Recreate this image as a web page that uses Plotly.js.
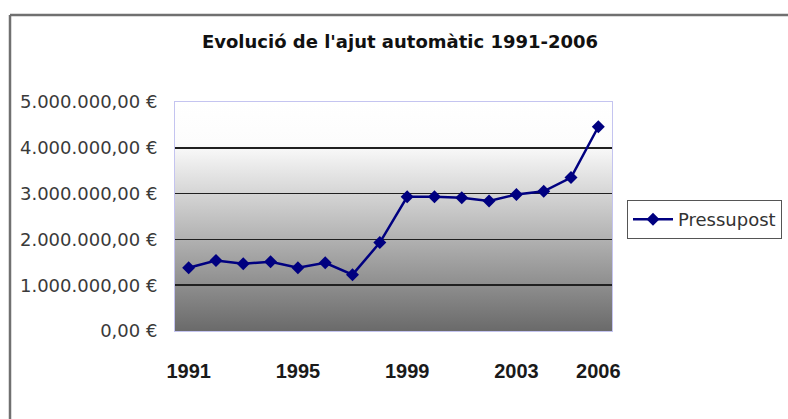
<!DOCTYPE html>
<html>
<head>
<meta charset="utf-8">
<script src="https://cdn.plot.ly/plotly-3.0.1.min.js"></script>
<style>html,body{margin:0;padding:0;background:#fff;}#chart{width:788px;height:419px;}</style>
</head>
<body>
<div id="chart"></div>
<script>
const years = [1991,1992,1993,1994,1995,1996,1997,1998,1999,2000,2001,2002,2003,2004,2005,2006];
const pressupost = [1380000,1540000,1470000,1510000,1380000,1490000,1230000,1930000,2930000,2930000,2910000,2840000,2980000,3050000,3350000,4460000];
const xTickYears = [1991,1995,1999,2003,2006];
const seriesName = 'Pressupost';
const chartTitle = "Evolució de l'ajut automàtic 1991-2006";

const W = 788, H = 419;
const mL = 175, mR = 176, mT = 102, mB = 88;
const pw = W - mL - mR, ph = H - mT - mB;
const px = v => (v - mL) / pw;
const py = v => (H - mB - v) / ph;

const grad = 'data:image/svg+xml;utf8,' + encodeURIComponent(
 '<svg xmlns="http://www.w3.org/2000/svg" width="100" height="100" preserveAspectRatio="none">' +
 '<defs><linearGradient id="g" x1="0" y1="0" x2="0" y2="1">' +
 '<stop offset="0" stop-color="#ffffff"/><stop offset="0.18" stop-color="#fcfcfc"/>' +
 '<stop offset="1" stop-color="#6a6a6a"/></linearGradient></defs>' +
 '<rect width="100" height="100" fill="url(#g)"/></svg>');

const trace = {
  x: years, y: pressupost, name: seriesName, type: 'scatter', mode: 'lines+markers',
  line: {color: '#000080', width: 2.5},
  marker: {symbol: 'diamond', size: 10, color: '#000080'},
  showlegend: true
};

const layout = {
  width: W, height: H,
  margin: {l: mL, r: mR, t: mT, b: mB, pad: 0, autoexpand: false},
  paper_bgcolor: '#ffffff', plot_bgcolor: 'rgba(0,0,0,0)',
  separators: ',.',
  title: {text: chartTitle, font: {family: 'DejaVu Sans', size: 18, color: '#111', weight: 'bold'},
          xref: 'container', yref: 'container', x: 400/W, xanchor: 'center', y: 1 - 42/H, yanchor: 'middle'},
  xaxis: {range: [1990.5, 2006.5], tickvals: xTickYears, ticktext: xTickYears.map(String),
          showgrid: false, zeroline: false, showline: true, mirror: true, linecolor: '#c4c4f0', linewidth: 1,
          ticks: '', ticklabelstandoff: 22, automargin: false,
          tickfont: {family: 'Liberation Sans', size: 20, color: '#1a1a1a', weight: 'bold'}},
  yaxis: {range: [0, 5000000], dtick: 1000000, tick0: 0, tickformat: ',.2f', ticksuffix: ' €',
          showgrid: true, gridcolor: '#202020', gridwidth: 1.6, zeroline: false,
          showline: true, mirror: true, linecolor: '#c4c4f0', linewidth: 1,
          ticks: '', ticklabelstandoff: 13, automargin: false,
          tickfont: {family: 'DejaVu Sans', size: 18, color: '#3a3a3a'}},
  legend: {x: 627/W, y: 1 - 200/H, xanchor: 'left', yanchor: 'top', xref: 'container', yref: 'container',
           bgcolor: '#ffffff', bordercolor: '#555', borderwidth: 1, itemwidth: 40,
           font: {family: 'DejaVu Sans', size: 18, color: '#333'}},
  images: [{source: grad, xref: 'paper', yref: 'paper', x: 0, y: 1, sizex: 1, sizey: 1,
            sizing: 'stretch', xanchor: 'left', yanchor: 'top', layer: 'below'}],
  shapes: [
    {type: 'line', xref: 'paper', yref: 'paper', x0: px(10), x1: px(10), y0: py(15), y1: py(440), line: {color: '#707070', width: 2.5}},
    {type: 'line', xref: 'paper', yref: 'paper', x0: px(10), x1: px(800), y0: py(15), y1: py(15), line: {color: '#707070', width: 2.5}}
  ]
};

Plotly.newPlot('chart', [trace], layout, {displayModeBar: false, staticPlot: true});
</script>
</body>
</html>
